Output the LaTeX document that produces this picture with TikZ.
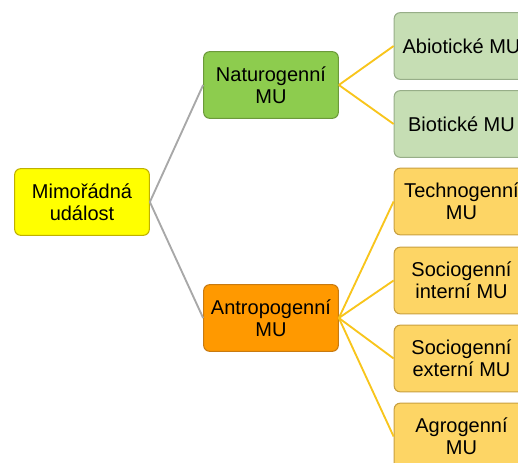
\documentclass[tikz,border=0pt]{standalone}
\usepackage[table]{xcolor}
\usepackage{pgf}
\usepackage{tikz}
\usepackage{fontspec}
\setmainfont{Liberation Sans}

\definecolor{rootfill}{HTML}{FFFF00}
\definecolor{rootline}{HTML}{BFB000}
\definecolor{naturfill}{HTML}{8DCC4E}
\definecolor{naturline}{HTML}{6C9A3A}
\definecolor{antrofill}{HTML}{FF9900}
\definecolor{antroline}{HTML}{C87A10}
\definecolor{bioleaf}{HTML}{C6DEB4}
\definecolor{bioline}{HTML}{97AE88}
\definecolor{antleaf}{HTML}{FDD565}
\definecolor{antline}{HTML}{C8A040}
\definecolor{greyline}{HTML}{A8A8A8}
\definecolor{goldline}{HTML}{F8C51C}

\begin{document}
\begin{tikzpicture}[x=0.75pt, y=-0.75pt,
    box/.style={rounded corners=4.5pt, line width=0.8pt, align=center,
        minimum width=101pt, minimum height=50pt, inner sep=0pt,
        font=\fontsize{15}{16.8}\selectfont},
    greylink/.style={draw=greyline, line width=1.4pt},
    goldlink/.style={draw=goldline, line width=1.4pt}]

        \useasboundingbox (0,0) rectangle (518,463);
        \clip (0,0) rectangle (518,463);

        %Root
        \node [box, fill=rootfill, draw=rootline] (mu) at (82,202) {Mimořádná\\událost};

        %Second level
        \node [box, fill=naturfill, draw=naturline] (natur) at (271,85) {Naturogenní\\MU};
        \node [box, fill=antrofill, draw=antroline] (antro) at (271,318) {Antropogenní\\MU};

        %Natural leaves
        \node [box, fill=bioleaf, draw=bioline] (abio) at (461.5,46) {Abiotické MU};
        \node [box, fill=bioleaf, draw=bioline] (bio) at (461.5,124) {Biotické MU};

        %Anthropogenic leaves
        \node [box, fill=antleaf, draw=antline] (techno) at (461.5,201.5) {Technogenní\\MU};
        \node [box, fill=antleaf, draw=antline] (socint) at (461.5,280.5) {Sociogenní\\interní MU};
        \node [box, fill=antleaf, draw=antline] (socext) at (461.5,358.5) {Sociogenní\\externí MU};
        \node [box, fill=antleaf, draw=antline] (agro) at (461.5,436.5) {Agrogenní\\MU};

        %Links
        \draw [greylink] (mu.east) -- (natur.west);
        \draw [greylink] (mu.east) -- (antro.west);
        \draw [goldlink] (natur.east) -- (abio.west);
        \draw [goldlink] (natur.east) -- (bio.west);
        \draw [goldlink] (antro.east) -- (techno.west);
        \draw [goldlink] (antro.east) -- (socint.west);
        \draw [goldlink] (antro.east) -- (socext.west);
        \draw [goldlink] (antro.east) -- (agro.west);

      \end{tikzpicture}
\end{document}
